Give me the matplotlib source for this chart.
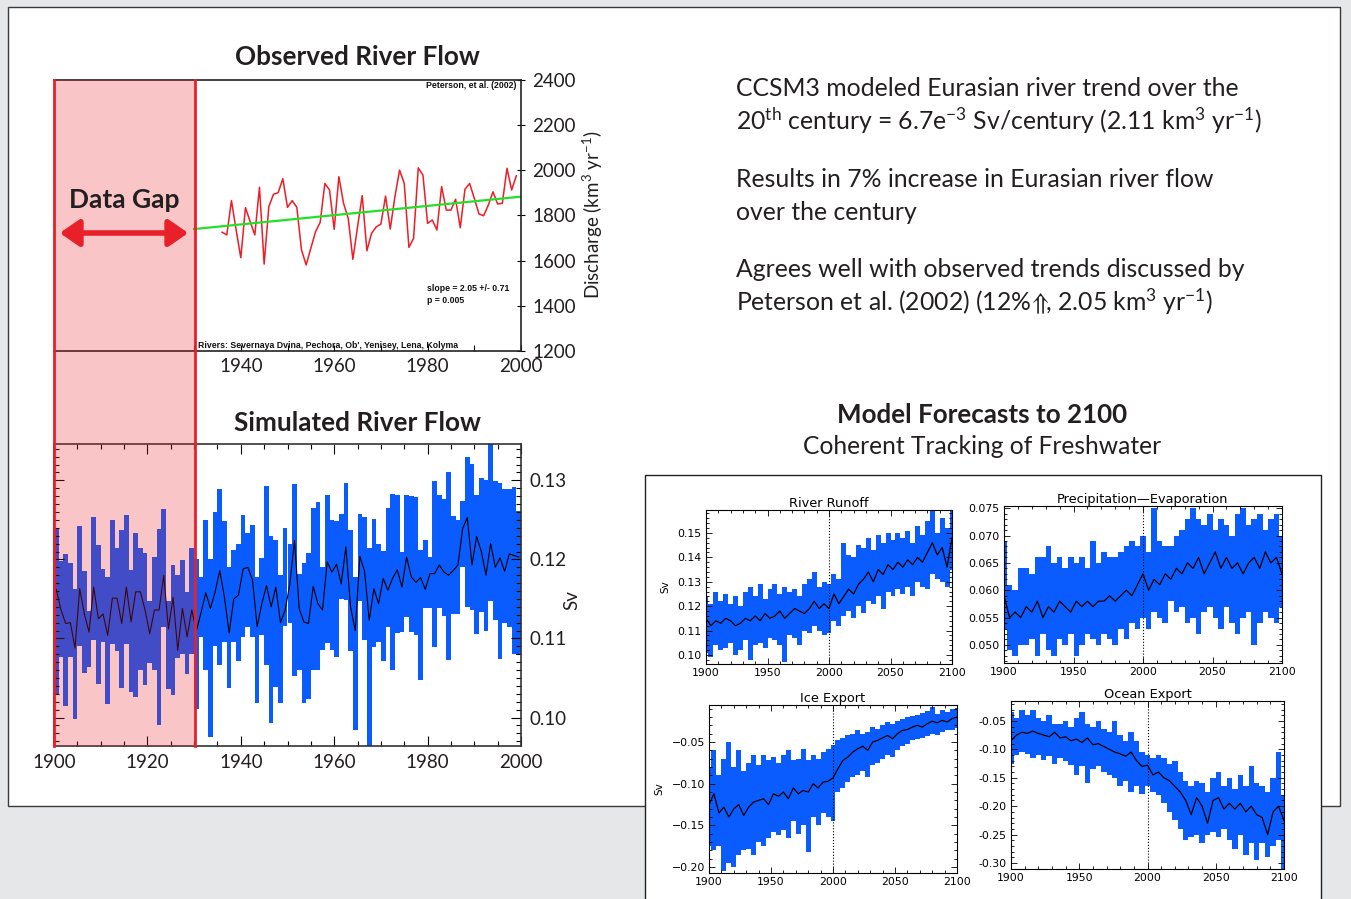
import numpy as np
import matplotlib.pyplot as plt
from matplotlib.patches import Rectangle, FancyArrowPatch
from matplotlib.lines import Line2D
from matplotlib.ticker import MultipleLocator, FuncFormatter

W, H = 1351, 899

plt.rcParams['font.family'] = ['Lato', 'DejaVu Sans']
plt.rcParams['mathtext.fontset'] = 'custom'
plt.rcParams['mathtext.rm'] = 'Lato'
plt.rcParams['mathtext.it'] = 'Lato:italic'
plt.rcParams['mathtext.bf'] = 'Lato:bold'
plt.rcParams['mathtext.fallback'] = 'stixsans'

# Observed Eurasian river discharge (km^3/yr), Peterson et al. (2002)
obs_years = np.arange(1936, 2000)
obs_flow = [1726, 1714, 1866, 1736, 1613, 1835, 1773, 1714, 1925, 1585,
            1839, 1894, 1901, 1963, 1836, 1866, 1836, 1647, 1581, 1655,
            1728, 1770, 1942, 1913, 1739, 1972, 1854, 1788, 1606, 1750,
            1888, 1644, 1721, 1750, 1762, 1886, 1740, 1883, 2001, 1942,
            1659, 1699, 2011, 1979, 1765, 1780, 1736, 1928, 1824, 1824,
            1872, 1746, 1916, 1942, 1876, 1807, 1799, 1846, 1905, 1851,
            1854, 2009, 1913, 1976]
trend_slope = 2.05      # km^3/yr per year
trend_1930 = 1740

# Simulated (CCSM3) river flow, Sv: yearly range and ensemble mean
sim_years = np.arange(1900, 2000)
sim_hi = [0.1238, 0.1198, 0.1207, 0.1196, 0.1163, 0.1242, 0.1185, 0.1135, 0.1254, 0.1218,
          0.1188, 0.1178, 0.1250, 0.1215, 0.1237, 0.1256, 0.1186, 0.1233, 0.1215, 0.1208,
          0.1148, 0.1203, 0.1239, 0.1264, 0.1148, 0.1193, 0.1180, 0.1199, 0.1159, 0.1215,
          0.1201, 0.1178, 0.1250, 0.1201, 0.1260, 0.1289, 0.1249, 0.1191, 0.1212, 0.1219,
          0.1256, 0.1233, 0.1243, 0.1178, 0.1202, 0.1293, 0.1229, 0.1225, 0.1180, 0.1240,
          0.1220, 0.1296, 0.1182, 0.1196, 0.1208, 0.1265, 0.1273, 0.1190, 0.1281, 0.1250,
          0.1249, 0.1257, 0.1297, 0.1237, 0.1178, 0.1258, 0.1254, 0.1215, 0.1251, 0.1219,
          0.1211, 0.1265, 0.1283, 0.1281, 0.1210, 0.1281, 0.1280, 0.1279, 0.1212, 0.1224,
          0.1203, 0.1299, 0.1281, 0.1276, 0.1310, 0.1255, 0.1250, 0.1274, 0.1330, 0.1321,
          0.1281, 0.1303, 0.1301, 0.1360, 0.1299, 0.1297, 0.1289, 0.1289, 0.1291, 0.1261]
sim_lo = [0.1029, 0.1077, 0.1015, 0.1077, 0.0998, 0.1090, 0.1056, 0.1064, 0.1098, 0.1043,
          0.1095, 0.1017, 0.1093, 0.1084, 0.1037, 0.1093, 0.1032, 0.1026, 0.1060, 0.1041,
          0.1069, 0.1060, 0.0990, 0.1114, 0.1036, 0.1028, 0.1075, 0.1081, 0.1055, 0.1081,
          0.1011, 0.1102, 0.1060, 0.0976, 0.1091, 0.1066, 0.1095, 0.1037, 0.1095, 0.1072,
          0.1102, 0.1114, 0.1102, 0.1019, 0.1105, 0.1066, 0.0993, 0.1038, 0.1019, 0.1116,
          0.1119, 0.1053, 0.1060, 0.1018, 0.1024, 0.1060, 0.1060, 0.1085, 0.1094, 0.1086,
          0.1077, 0.1150, 0.1149, 0.1084, 0.0984, 0.1148, 0.1098, 0.0960, 0.1089, 0.1095,
          0.1072, 0.1114, 0.1060, 0.1107, 0.1108, 0.1127, 0.1108, 0.1104, 0.1048, 0.1138,
          0.1138, 0.1089, 0.1139, 0.1129, 0.1073, 0.1131, 0.1131, 0.1191, 0.1140, 0.1136,
          0.1106, 0.1133, 0.1110, 0.1147, 0.1123, 0.1074, 0.1119, 0.1114, 0.1081, 0.1079]
sim_mean = [0.1162, 0.1136, 0.1119, 0.1120, 0.1088, 0.1163, 0.1131, 0.1108, 0.1165, 0.1125,
            0.1131, 0.1104, 0.1151, 0.1151, 0.1119, 0.1165, 0.1121, 0.1159, 0.1159, 0.1136,
            0.1106, 0.1136, 0.1136, 0.1180, 0.1112, 0.1152, 0.1085, 0.1138, 0.1102, 0.1136,
            0.1110, 0.1133, 0.1158, 0.1138, 0.1159, 0.1186, 0.1152, 0.1107, 0.1150, 0.1155,
            0.1188, 0.1190, 0.1174, 0.1115, 0.1144, 0.1167, 0.1140, 0.1165, 0.1120, 0.1136,
            0.1169, 0.1224, 0.1138, 0.1121, 0.1119, 0.1166, 0.1144, 0.1136, 0.1197, 0.1184,
            0.1194, 0.1169, 0.1216, 0.1140, 0.1110, 0.1204, 0.1185, 0.1123, 0.1163, 0.1144,
            0.1176, 0.1161, 0.1176, 0.1187, 0.1165, 0.1203, 0.1178, 0.1171, 0.1177, 0.1162,
            0.1182, 0.1182, 0.1193, 0.1184, 0.1180, 0.1186, 0.1193, 0.1239, 0.1253, 0.1193,
            0.1229, 0.1210, 0.1180, 0.1220, 0.1190, 0.1202, 0.1185, 0.1207, 0.1205, 0.1203]

# Model forecasts 1900-2100 (every 4 years): mean, high, low
fc_years = np.arange(1900, 2101, 4)
runoff_mean = [.115, .112, .114, .113, .115, .114, .112, .113, .115, .114,
               .116, .114, .117, .115, .116, .118, .115, .117, .119, .118,
               .117, .119, .122, .119, .121, .119, .125, .121, .124, .127,
               .125, .129, .131, .134, .130, .135, .133, .137, .135, .138,
               .136, .139, .137, .140, .138, .142, .146, .141, .144, .136, .148]
runoff_hi = [.124, .121, .126, .122, .125, .121, .124, .120, .126, .128,
             .124, .129, .123, .127, .129, .125, .128, .126, .127, .124,
             .129, .131, .134, .128, .130, .129, .133, .131, .146, .141,
             .140, .145, .144, .148, .143, .149, .146, .150, .147, .150,
             .148, .151, .146, .153, .149, .155, .159, .150, .156, .152, .159]
runoff_lo = [.101, .099, .104, .102, .103, .105, .100, .102, .106, .098,
             .104, .105, .103, .107, .106, .104, .097, .108, .107, .104,
             .110, .109, .112, .110, .108, .109, .114, .112, .116, .118,
             .115, .120, .117, .122, .121, .124, .119, .126, .124, .127,
             .125, .128, .124, .130, .128, .127, .133, .131, .130, .128, .135]

pe_mean = [.059, .055, .056, .055, .057, .056, .058, .055, .057, .056,
           .058, .057, .056, .058, .057, .058, .057, .058, .058, .059,
           .058, .059, .060, .059, .061, .063, .060, .062, .061, .063,
           .062, .064, .063, .065, .064, .066, .063, .065, .067, .064,
           .066, .064, .065, .063, .065, .066, .064, .067, .065, .066, .063]
pe_hi = [.069, .061, .060, .064, .064, .063, .066, .066, .068, .065,
         .066, .064, .066, .065, .066, .064, .069, .065, .067, .066,
         .066, .067, .068, .069, .068, .070, .067, .075, .069, .068,
         .068, .070, .071, .073, .075, .073, .072, .074, .071, .073,
         .072, .070, .074, .075, .072, .073, .074, .071, .073, .074, .070]
pe_lo = [.053, .049, .048, .050, .050, .051, .048, .052, .049, .048,
         .051, .050, .052, .048, .050, .052, .051, .050, .052, .051,
         .050, .053, .051, .054, .053, .055, .053, .056, .055, .054,
         .058, .056, .057, .054, .055, .052, .056, .057, .055, .053,
         .057, .054, .052, .055, .056, .050, .054, .056, .055, .054, .057]

ice_mean = [-.125, -.112, -.135, -.128, -.140, -.130, -.125, -.138, -.128, -.122,
            -.120, -.118, -.125, -.112, -.115, -.110, -.118, -.105, -.112, -.108,
            -.110, -.100, -.105, -.098, -.097, -.093, -.082, -.072, -.068, -.062,
            -.058, -.055, -.060, -.050, -.048, -.045, -.042, -.046, -.040, -.036,
            -.035, -.032, -.030, -.032, -.028, -.025, -.027, -.024, -.026, -.022, -.020]
ice_hi = [-.080, -.060, -.090, -.070, -.050, -.080, -.060, -.085, -.075, -.065,
          -.078, -.065, -.072, -.068, -.075, -.065, -.060, -.072, -.070, -.058,
          -.072, -.066, -.070, -.062, -.058, -.053, -.048, -.045, -.042, -.040,
          -.036, -.040, -.038, -.032, -.034, -.030, -.026, -.028, -.025, -.022,
          -.020, -.019, -.017, -.015, -.013, -.008, -.016, -.012, -.014, -.010, -.009]
ice_lo = [-.175, -.180, -.175, -.205, -.195, -.200, -.185, -.180, -.178, -.185,
          -.170, -.175, -.165, -.158, -.162, -.155, -.165, -.145, -.160, -.150,
          -.182, -.140, -.150, -.135, -.140, -.145, -.110, -.105, -.098, -.092,
          -.090, -.085, -.092, -.078, -.075, -.070, -.065, -.068, -.060, -.055,
          -.052, -.048, -.046, -.045, -.043, -.040, -.042, -.038, -.036, -.035, -.033]

ocean_mean = [-.085, -.075, -.070, -.072, -.068, -.072, -.075, -.078, -.070, -.080,
              -.078, -.085, -.082, -.088, -.080, -.092, -.090, -.095, -.100, -.105,
              -.108, -.112, -.105, -.120, -.130, -.128, -.145, -.140, -.150, -.155,
              -.165, -.175, -.190, -.215, -.185, -.200, -.230, -.190, -.185, -.205,
              -.195, -.205, -.195, -.210, -.200, -.215, -.220, -.250, -.210, -.200, -.225]
ocean_hi = [-.035, -.045, -.030, -.040, -.030, -.045, -.050, -.040, -.055, -.055,
            -.050, -.060, -.045, -.035, -.055, -.060, -.050, -.065, -.070, -.050,
            -.075, -.085, -.070, -.085, -.105, -.110, -.115, -.110, -.115, -.125,
            -.120, -.140, -.155, -.165, -.155, -.160, -.175, -.150, -.140, -.165,
            -.150, -.170, -.145, -.165, -.130, -.160, -.165, -.175, -.150, -.105, -.180]
ocean_lo = [-.125, -.110, -.105, -.108, -.115, -.110, -.118, -.112, -.125, -.115,
            -.120, -.128, -.145, -.130, -.160, -.135, -.130, -.140, -.145, -.150,
            -.165, -.155, -.175, -.165, -.178, -.165, -.175, -.180, -.195, -.210,
            -.225, -.240, -.260, -.255, -.250, -.265, -.250, -.245, -.255, -.240,
            -.260, -.275, -.250, -.285, -.265, -.295, -.265, -.290, -.270, -.260, -.310]

BLUE = '#0a5cff'
RED = '#e8202a'
INK = '#231f20'


def box(x0, y0, x1, y1):
    # pixel box (top-left origin) -> figure fraction rect
    return [x0 / W, 1 - y1 / H, (x1 - x0) / W, (y1 - y0) / H]


def fx(x):
    return x / W


def fy(y):
    return 1 - y / H


fig = plt.figure(figsize=(W / 100, H / 100), dpi=100, facecolor='#e6e7e8')

# slide panels
fig.patches.append(Rectangle((fx(8), fy(806)), (1340 - 8) / W, (806 - 7) / H,
                             transform=fig.transFigure, facecolor='white',
                             edgecolor='#3a3a3a', lw=1, zorder=-10))
fig.patches.append(Rectangle((fx(645), fy(905)), (1321 - 645) / W, (905 - 475) / H,
                             transform=fig.transFigure, facecolor='white',
                             edgecolor='#222222', lw=1, zorder=-5))

# ---- observed river flow
ax1 = fig.add_axes(box(54, 80, 521, 351))
ax1.plot(obs_years, obs_flow, color='#ee1c24', lw=1.1)
tx = np.array([1930, 2000])
ax1.plot(tx, trend_1930 + trend_slope * (tx - 1930), color='#22e02a', lw=1.6)
ax1.set_xlim(1900, 2000)
ax1.set_ylim(1200, 2400)
ax1.spines['left'].set_visible(False)
for s in ['top', 'bottom', 'right']:
    ax1.spines[s].set_linewidth(1.2)
    ax1.spines[s].set_color('#222222')
ax1.yaxis.tick_right()
ax1.set_yticks(np.arange(1200, 2401, 200))
ax1.set_xticks([1940, 1960, 1980, 2000])
ax1.set_xticks([1930, 1950, 1970, 1990], minor=True)
ax1.tick_params(axis='y', direction='inout', length=6, width=0.8,
                labelsize=13.5, pad=5, labelcolor=INK)
ax1.tick_params(axis='x', which='both', direction='in', length=4, width=0.8,
                labelsize=13.5, pad=5, labelcolor=INK)
small = dict(family=['Liberation Sans Narrow', 'Liberation Sans', 'DejaVu Sans'],
             weight='bold', fontsize=6.3, color='#111111', transform=ax1.transAxes)
ax1.text(0.991, 0.978, 'Peterson, et al. (2002)', ha='right', va='center', **small)
ax1.text(0.799, 0.232, 'slope = 2.05 +/- 0.71', ha='left', va='center', **small)
ax1.text(0.799, 0.188, 'p = 0.005', ha='left', va='center', **small)
ax1.text(0.308, 0.020, "Rivers: Severnaya Dvina, Pechora, Ob', Yenisey, Lena, Kolyma",
         ha='left', va='center', **small)

# ---- simulated river flow
ax2 = fig.add_axes(box(54, 444, 521, 746))
ax2.bar(sim_years, np.subtract(sim_hi, sim_lo), bottom=sim_lo, width=1.0,
        align='edge', color=BLUE, lw=0)
ax2.plot(sim_years + 0.5, sim_mean, color='black', lw=0.8)
ax2.set_xlim(1900, 2000)
ax2.set_ylim(0.0964, 0.1346)
ax2.xaxis.set_major_locator(MultipleLocator(20))
ax2.xaxis.set_minor_locator(MultipleLocator(5))
ax2.yaxis.set_major_locator(MultipleLocator(0.01))
ax2.yaxis.set_minor_locator(MultipleLocator(0.001))
ax2.yaxis.set_major_formatter(FuncFormatter(lambda v, p: '%.2f' % v))
ax2.tick_params(which='both', direction='in', top=True, left=True, right=True,
                labelleft=False, labelright=True, width=0.8, labelcolor=INK)
ax2.tick_params(which='major', length=7, labelsize=13.5, pad=6)
ax2.tick_params(which='minor', length=3.5)
for s in ax2.spines.values():
    s.set_linewidth(1.2)
    s.set_color('#333333')

# data gap shading over both panels
fig.patches.append(Rectangle((fx(54), fy(746)), (195 - 54) / W, (746 - 80) / H,
                             transform=fig.transFigure, facecolor=RED, alpha=0.26,
                             lw=0, zorder=5))
for xp in (54, 195):
    fig.add_artist(Line2D([fx(xp), fx(xp)], [fy(80), fy(746)], transform=fig.transFigure,
                          color=RED, lw=2, zorder=6))
fig.text(fx(124), fy(200), 'Data Gap', ha='center', va='center', fontsize=19,
         weight='bold', color=INK, zorder=7)
fig.add_artist(FancyArrowPatch((fx(57), fy(233)), (fx(191), fy(233)),
                               transform=fig.transFigure,
                               arrowstyle='<|-|>,head_length=0.65,head_width=0.45',
                               mutation_scale=18, lw=4, color=RED, zorder=7))

# titles and axis labels
fig.text(fx(357), fy(57), 'Observed River Flow', ha='center', va='center',
         fontsize=18.8, weight='bold', color=INK)
fig.text(fx(357), fy(423), 'Simulated River Flow', ha='center', va='center',
         fontsize=18.8, weight='bold', color=INK)
fig.text(fx(593), fy(215), r'Discharge (km$^{3}$ yr$^{-1}$)', rotation=90,
         ha='center', va='center', fontsize=13.5, color=INK)
fig.text(fx(572), fy(600), 'Sv', rotation=90, ha='center', va='center',
         fontsize=13.5, color=INK)

# right-hand notes
note = dict(fontsize=17.8, color=INK, ha='left', va='baseline')
fig.text(fx(736), fy(96), 'CCSM3 modeled Eurasian river trend over the', **note)
fig.text(fx(736), fy(130),
         r'20$^{\mathrm{th}}$ century = 6.7e$^{-3}$ Sv/century (2.11 km$^{3}$ yr$^{-1}$)', **note)
fig.text(fx(736), fy(187), 'Results in 7% increase in Eurasian river flow', **note)
fig.text(fx(736), fy(220), 'over the century', **note)
fig.text(fx(736), fy(277), 'Agrees well with observed trends discussed by', **note)
fig.text(fx(736), fy(311),
         r'Peterson et al. (2002) (12%$\!\Uparrow\!\!$, 2.05 km$^{3}$ yr$^{-1}$)', **note)

fig.text(fx(982), fy(415), 'Model Forecasts to 2100', ha='center', va='center',
         fontsize=18.7, weight='bold', color=INK)
fig.text(fx(982), fy(447), 'Coherent Tracking of Freshwater', ha='center', va='center',
         fontsize=17.7, color=INK)


def forecast(rect, title, mean, hi, lo, ylim, major, fmt, ylabel=False):
    ax = fig.add_axes(box(*rect))
    ax.bar(fc_years, np.subtract(hi, lo), bottom=lo, width=4, color=BLUE, lw=0)
    ax.plot(fc_years, mean, color='black', lw=0.9)
    ax.axvline(2000, color='black', ls=':', lw=0.8)
    ax.set_xlim(1900, 2100)
    ax.set_ylim(*ylim)
    ax.xaxis.set_major_locator(MultipleLocator(50))
    ax.xaxis.set_minor_locator(MultipleLocator(10))
    ax.yaxis.set_major_locator(MultipleLocator(major))
    ax.yaxis.set_minor_locator(MultipleLocator(major / 5))
    ax.yaxis.set_major_formatter(FuncFormatter(fmt))
    ax.tick_params(which='both', direction='in', top=True, right=True, width=0.6,
                   labelsize=7.8, pad=3, labelfontfamily='DejaVu Sans')
    ax.tick_params(which='major', length=4)
    ax.tick_params(which='minor', length=2)
    for s in ax.spines.values():
        s.set_linewidth(0.8)
    ax.set_title(title, fontsize=9.3, pad=2, family='DejaVu Sans')
    if ylabel:
        ax.set_ylabel('Sv', fontsize=7.5, family='DejaVu Sans', labelpad=5)
    return ax


forecast((706, 510, 952, 664), 'River Runoff', runoff_mean, runoff_hi, runoff_lo,
         (0.0963, 0.1594), 0.01, lambda v, p: '%.2f' % v, ylabel=True)
forecast((1004, 506, 1282, 663), 'Precipitation\u2014Evaporation', pe_mean, pe_hi, pe_lo,
         (0.0467, 0.0754), 0.005, lambda v, p: '%.3f' % v)
forecast((709, 705, 957, 873), 'Ice Export', ice_mean, ice_hi, ice_lo,
         (-0.207, -0.0056), 0.05, lambda v, p: '\u2212%.2f' % abs(v), ylabel=True)
forecast((1011, 701, 1284, 869), 'Ocean Export', ocean_mean, ocean_hi, ocean_lo,
         (-0.3105, -0.015), 0.05, lambda v, p: '-%.2f' % abs(v))

fig.savefig('out.png', dpi=100, facecolor=fig.get_facecolor())
